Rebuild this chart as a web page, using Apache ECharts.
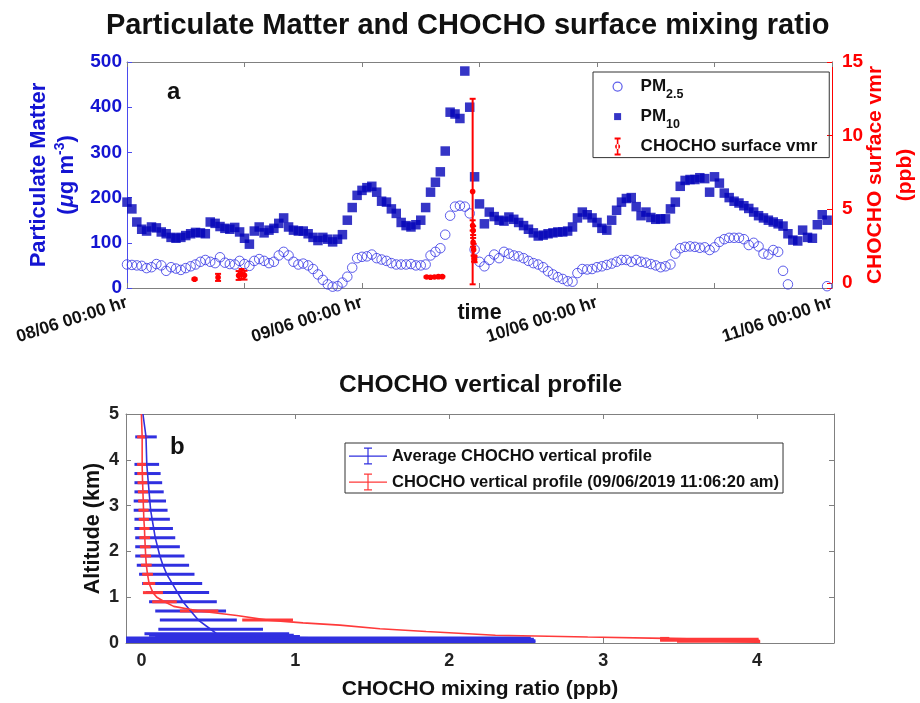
<!DOCTYPE html>
<html>
<head>
<meta charset="utf-8">
<script src="https://cdn.jsdelivr.net/npm/echarts@6/dist/echarts.min.js"></script>
<style>
  html, body { margin: 0; padding: 0; background: #fff; }
  #main { width: 920px; height: 703px; }
</style>
</head>
<body>
<div id="main"></div>
<script>
// ---- panel a: half-hourly PM starting 08/06 00:00 (hours since start on x)
var pmStepHours = 0.5;
var pm25 = [52,51,50,49,44,46,53,50,38,46,
  43,40,44,48,52,58,62,58,55,68,
  56,53,52,60,53,49,60,64,60,55,
  58,72,80,72,58,52,54,50,42,30,
  18,8,3,4,12,25,45,66,69,70,
  74,66,63,60,55,52,52,52,53,50,
  50,52,72,80,88,118,160,180,182,180,
  165,85,58,48,62,74,66,80,76,72,
  70,66,60,55,52,46,37,30,24,20,
  15,14,33,42,41,42,46,48,51,54,
  58,62,62,58,62,58,56,53,50,46,
  48,52,76,88,91,92,91,89,90,84,
  90,102,108,111,111,111,108,95,100,92,
  76,74,84,80,38,8,null,null,null,null,
  null,null,null,4];
var pm10 = [190,175,146,130,126,135,133,124,120,112,
  110,112,116,120,123,122,120,146,143,136,
  132,130,134,124,110,97,126,135,122,128,
  132,143,155,135,128,126,126,120,112,105,
  112,108,102,108,118,150,178,205,216,222,
  225,212,192,190,175,165,145,138,135,140,
  150,178,212,234,257,303,389,385,375,480,
  400,246,186,142,168,158,150,148,157,152,
  145,138,130,122,115,117,120,122,124,124,
  126,135,155,168,162,155,145,132,128,150,
  172,190,198,200,180,160,168,156,152,153,
  153,175,190,225,238,240,240,244,242,212,
  246,232,210,200,192,188,182,176,168,160,
  155,150,146,142,137,120,106,104,128,112,
  110,140,162,150];

// CHOCHO surface vmr (ppb) with error half-widths
var vmrHour = [6.9, 9.3, 11.4, 11.7, 12.0, 30.6, 31.0, 31.4, 31.8, 32.2, 35.3, 35.3, 35.35, 35.35, 35.4, 35.45, 35.5];
var vmrValue = [0.25, 0.37, 0.5, 0.6, 0.52, 0.4, 0.38, 0.4, 0.42, 0.42, 6.2, 3.9, 3.55, 2.75, 2.25, 1.65, 1.6];
var vmrErr = [0.05, 0.24, 0.3, 0.34, 0.3, 0.04, 0.04, 0.04, 0.04, 0.04, 6.3, 0.35, 0.3, 0.3, 0.4, 0.2, 0.2];

var timeTickHours = [0, 24, 48, 72];
var timeTickLabels = ['08/06 00:00 hr', '09/06 00:00 hr', '10/06 00:00 hr', '11/06 00:00 hr'];
var vmrTicks = [0, 5, 10, 15];

// ---- panel b: vertical profiles (altitude km, mixing ratio ppb, error half-width)
var avgAlt = [5.0, 4.5, 3.9, 3.7, 3.5, 3.3, 3.1, 2.9, 2.7, 2.5, 2.3, 2.1, 1.9, 1.7, 1.5, 1.3, 1.1, 0.9, 0.7, 0.5, 0.3, 0.2, 0.17, 0.14, 0.11, 0.08, 0.05, 0.02];
var avgRatio = [0.01, 0.03, 0.035, 0.04, 0.045, 0.05, 0.055, 0.06, 0.07, 0.08, 0.09, 0.105, 0.12, 0.14, 0.165, 0.2, 0.235, 0.27, 0.32, 0.37, 0.45, 0.49, 0.52, 0.56, 1.2, 1.22, 1.23, 1.23];
var avgErr = [0, 0.07, 0.08, 0.085, 0.09, 0.095, 0.105, 0.11, 0.115, 0.125, 0.13, 0.145, 0.16, 0.17, 0.18, 0.195, 0.205, 0.22, 0.23, 0.25, 0.34, 0.47, 0.47, 0.47, 1.33, 1.33, 1.33, 1.33];

var obsAlt = [5.0, 4.5, 3.9, 3.7, 3.5, 3.3, 3.1, 2.9, 2.7, 2.5, 2.3, 2.1, 1.9, 1.7, 1.5, 1.3, 1.1, 1.0, 0.9, 0.8, 0.7, 0.6, 0.5, 0.44, 0.39, 0.31, 0.25, 0.17, 0.13, 0.1, 0.08, 0.06, 0.04, 0.02];
var obsRatio = [0.0, 0.005, 0.005, 0.006, 0.008, 0.01, 0.012, 0.014, 0.016, 0.02, 0.022, 0.025, 0.028, 0.032, 0.04, 0.05, 0.075, 0.1, 0.15, 0.21, 0.375, 0.62, 0.82, 1.05, 1.29, 1.55, 1.85, 2.3, 2.9, 3.4, 3.69, 3.69, 3.75, 4.0];
var obsErr = [0, 0.033, 0.033, 0.033, 0.033, 0.033, 0.033, 0.033, 0.033, 0.033, 0.035, 0.035, 0.035, 0.035, 0.035, 0.04, 0.065, 0, 0.08, 0, 0.125, 0, 0.165, 0, 0, 0, 0, 0, 0, 0.03, 0.32, 0.32, 0.27, 0.02];

var font = '"Liberation Sans", Arial, sans-serif';
var blueLbl = '#1414d2';
var red = '#ff0000';
var axisGray = '#808080';
var profBlue = '#3030e0';
var profRed = '#ff3a3a';

function pmPoints(arr) {
  var out = [];
  arr.forEach(function (v, i) {
    if (v !== null) out.push([i * pmStepHours, v]);
  });
  return out;
}

function renderVmr(params, api) {
  var c = api.coord([api.value(0), api.value(1)]);
  var lo = api.coord([api.value(0), api.value(1) - api.value(2)]);
  var hi = api.coord([api.value(0), api.value(1) + api.value(2)]);
  function st() { return { stroke: red, lineWidth: 2 }; }
  return {
    type: 'group',
    children: [
      { type: 'line', shape: { x1: c[0], y1: lo[1], x2: c[0], y2: hi[1] }, style: st() },
      { type: 'line', shape: { x1: c[0] - 3, y1: lo[1], x2: c[0] + 3, y2: lo[1] }, style: st() },
      { type: 'line', shape: { x1: c[0] - 3, y1: hi[1], x2: c[0] + 3, y2: hi[1] }, style: st() },
      { type: 'circle', shape: { cx: c[0], cy: c[1], r: 2.8 }, style: { fill: red } }
    ]
  };
}

function barRenderer(color) {
  return function (params, api) {
    var e = api.value(2);
    if (!(e > 0)) return null;
    var a = api.coord([api.value(0) - e, api.value(1)]);
    var b = api.coord([api.value(0) + e, api.value(1)]);
    return {
      type: 'line',
      shape: { x1: a[0], y1: a[1], x2: b[0], y2: b[1] },
      style: { stroke: color, lineWidth: 3 }
    };
  };
}

var iconCircle = 'path://M0,0L0,0M30,20L30,20M7.5,10a4.5,4.5 0 1,0 9,0a4.5,4.5 0 1,0 -9,0z';
var iconSquare = 'path://M0,0L0,0M30,20L30,20M8.5,6.5h7v7h-7z';
var iconVmr = 'path://M0,0L0,0M30,20L30,20M9,1h6v2h-6zM11.2,1h1.6v18h-1.6zM9,17h6v2h-6zM9.5,10a2.5,2.5 0 1,0 5,0a2.5,2.5 0 1,0 -5,0z';
var iconProf = 'path://M0,8h38v1.2h-38zM18.4,0h1.2v17h-1.2zM15,0h8v1.2h-8zM15,15.8h8v1.2h-8z';

var nameAvg = 'Average CHOCHO vertical profile';
var nameObs = 'CHOCHO vertical profile (09/06/2019 11:06:20 am)';

var chart = echarts.init(document.getElementById('main'));
chart.setOption({
  animation: false,
  backgroundColor: '#fff',
  textStyle: { fontFamily: font },
  title: [
    { text: 'Particulate Matter and CHOCHO surface mixing ratio', left: 106, top: 11, padding: 0,
      textStyle: { fontSize: 29, fontWeight: 'bold', color: '#111' } },
    { text: 'a', left: 167, top: 80, padding: 0, textStyle: { fontSize: 24, fontWeight: 'bold', color: '#111' } },
    { text: 'CHOCHO vertical profile', left: 339, top: 373, padding: 0,
      textStyle: { fontSize: 24.5, fontWeight: 'bold', color: '#111' } },
    { text: 'b', left: 170, top: 435, padding: 0, textStyle: { fontSize: 24, fontWeight: 'bold', color: '#111' } }
  ],
  legend: [
    {
      orient: 'vertical', left: 593, top: 72, padding: [4, 12, 1, 12], itemGap: 6,
      itemWidth: 30, itemHeight: 20, borderColor: '#333', borderWidth: 1,
      data: [
        { name: 'PM2.5', icon: iconCircle, itemStyle: { color: 'rgba(0,0,0,0)', borderColor: '#3535e5', borderWidth: 1.2 } },
        { name: 'PM10', icon: iconSquare, itemStyle: { color: '#0303b8' } },
        { name: 'CHOCHO surface vmr', icon: iconVmr, itemStyle: { color: red } }
      ],
      formatter: function (name) {
        if (name === 'PM2.5') return '{t|PM}{s|2.5}';
        if (name === 'PM10') return '{t|PM}{s|10}';
        return '{t|' + name + '}';
      },
      textStyle: {
        rich: {
          t: { fontSize: 17, fontWeight: 'bold', color: '#111', lineHeight: 28, fontFamily: font },
          s: { fontSize: 12.5, fontWeight: 'bold', color: '#111', verticalAlign: 'bottom', lineHeight: 13, fontFamily: font }
        }
      }
    },
    {
      orient: 'vertical', left: 345, top: 443, padding: [3, 4, 1, 4], itemGap: 6,
      itemWidth: 38, itemHeight: 17, borderColor: '#333', borderWidth: 1,
      data: [
        { name: nameAvg, icon: iconProf, itemStyle: { color: profBlue } },
        { name: nameObs, icon: iconProf, itemStyle: { color: profRed } }
      ],
      textStyle: { fontSize: 16.5, fontWeight: 'bold', color: '#111', lineHeight: 20 }
    }
  ],
  grid: [
    { left: 127, right: 88, top: 62, height: 226, outerBoundsMode: 'none' },
    { left: 126, right: 86, top: 414, height: 229, outerBoundsMode: 'none' }
  ],
  xAxis: [
    {
      type: 'value', gridIndex: 0, min: 0, max: 72, interval: 12,
      name: 'time', nameLocation: 'middle', nameGap: 14, nameMoveOverlap: false,
      nameTextStyle: { fontSize: 21.5, fontWeight: 'bold', color: '#111' },
      axisLine: { onZero: false, lineStyle: { color: axisGray } },
      axisTick: { inside: true, length: 5, lineStyle: { color: axisGray } },
      axisLabel: {
        rotate: 18, margin: 14, fontSize: 17.5, fontWeight: 'bold', color: '#111',
        formatter: function (v) {
          var k = timeTickHours.indexOf(v);
          return k >= 0 ? timeTickLabels[k] : '';
        }
      },
      splitLine: { show: false }
    },
    {
      type: 'value', gridIndex: 0, position: 'top', min: 0, max: 72, interval: 12,
      axisLine: { onZero: false, lineStyle: { color: axisGray } },
      axisTick: { inside: true, length: 5, lineStyle: { color: axisGray } },
      axisLabel: { show: false }, splitLine: { show: false }
    },
    {
      type: 'value', gridIndex: 1, min: -0.1, max: 4.5,
      name: 'CHOCHO mixing ratio (ppb)', nameLocation: 'middle', nameGap: 36, nameMoveOverlap: false,
      nameTextStyle: { fontSize: 21, fontWeight: 'bold', color: '#111' },
      axisLine: { onZero: false, lineStyle: { color: axisGray } },
      axisTick: { inside: true, length: 5, customValues: [0, 1, 2, 3, 4], lineStyle: { color: axisGray } },
      axisLabel: { customValues: [0, 1, 2, 3, 4], margin: 9, fontSize: 18, fontWeight: 'bold', color: '#222' },
      splitLine: { show: false }
    },
    {
      type: 'value', gridIndex: 1, position: 'top', min: -0.1, max: 4.5,
      axisLine: { onZero: false, lineStyle: { color: axisGray } },
      axisTick: { inside: true, length: 5, customValues: [0, 1, 2, 3, 4], lineStyle: { color: axisGray } },
      axisLabel: { show: false }, splitLine: { show: false }
    }
  ],
  yAxis: [
    {
      type: 'value', gridIndex: 0, min: 0, max: 500, interval: 100,
      name: '{b|Particulate Matter}\n{b|(}{i|\u03bc}{b|g m}{p|-3}{b|)}', nameLocation: 'middle', nameGap: 46,
      nameMoveOverlap: false,
      nameTextStyle: {
        color: blueLbl,
        rich: {
          b: { fontSize: 22, fontWeight: 'bold', color: blueLbl, lineHeight: 28, fontFamily: font },
          i: { fontSize: 22, fontStyle: 'italic', fontWeight: 'bold', color: blueLbl, lineHeight: 28, fontFamily: font },
          p: { fontSize: 14, fontWeight: 'bold', color: blueLbl, verticalAlign: 'top', lineHeight: 28, fontFamily: font }
        }
      },
      axisLine: { show: true, onZero: false, lineStyle: { color: '#4a4aee' } },
      axisTick: { show: true, inside: true, length: 5, lineStyle: { color: '#4a4aee' } },
      axisLabel: { fontSize: 19, fontWeight: 'bold', color: blueLbl, margin: 5 },
      splitLine: { show: false }
    },
    {
      type: 'value', gridIndex: 0, position: 'right', min: -0.35, max: 15, splitNumber: 3,
      name: '{b|CHOCHO surface vmr}\n{b|(ppb)}', nameLocation: 'middle', nameGap: 28,
      nameMoveOverlap: false,
      nameTextStyle: {
        color: red,
        rich: { b: { fontSize: 21, fontWeight: 'bold', color: red, lineHeight: 30, fontFamily: font } }
      },
      axisLine: { show: true, onZero: false, lineStyle: { color: red } },
      axisTick: { show: true, inside: true, length: 5, lineStyle: { color: red } },
      axisLabel: {
        fontSize: 19, fontWeight: 'bold', color: red, margin: 10,
        formatter: function (v) { return vmrTicks.indexOf(v) >= 0 ? String(v) : ''; }
      },
      splitLine: { show: false }
    },
    {
      type: 'value', gridIndex: 1, min: 0, max: 5, interval: 1,
      name: 'Altitude (km)', nameLocation: 'middle', nameGap: 22, nameMoveOverlap: false,
      nameTextStyle: { fontSize: 21.5, fontWeight: 'bold', color: '#111' },
      axisLine: { show: true, onZero: false, lineStyle: { color: axisGray } },
      axisTick: { show: true, inside: true, length: 5, lineStyle: { color: axisGray } },
      axisLabel: { fontSize: 18, fontWeight: 'bold', color: '#222', margin: 7 },
      splitLine: { show: false }
    },
    {
      type: 'value', gridIndex: 1, position: 'right', min: 0, max: 5, interval: 1,
      axisLine: { show: true, onZero: false, lineStyle: { color: axisGray } },
      axisTick: { show: true, inside: true, length: 5, lineStyle: { color: axisGray } },
      axisLabel: { show: false }, splitLine: { show: false }
    }
  ],
  series: [
    {
      name: 'PM2.5', type: 'scatter', xAxisIndex: 0, yAxisIndex: 0,
      symbol: 'circle', symbolSize: 9.5,
      itemStyle: { color: 'rgba(0,0,0,0)', borderColor: '#3535e5', borderWidth: 1 },
      data: pmPoints(pm25)
    },
    {
      name: 'PM10', type: 'scatter', xAxisIndex: 0, yAxisIndex: 0,
      symbol: 'rect', symbolSize: 9.5,
      itemStyle: { color: '#0303b8' },
      data: pmPoints(pm10)
    },
    {
      name: 'CHOCHO surface vmr', type: 'custom', xAxisIndex: 0, yAxisIndex: 1,
      itemStyle: { color: red }, z: 5,
      renderItem: renderVmr,
      data: vmrHour.map(function (t, i) { return [t, vmrValue[i], vmrErr[i]]; })
    },
    {
      name: nameAvg + ' bars', type: 'custom', xAxisIndex: 2, yAxisIndex: 2, clip: true,
      renderItem: barRenderer(profBlue),
      data: avgAlt.map(function (h, i) { return [avgRatio[i], h, avgErr[i]]; })
    },
    {
      name: nameAvg, type: 'line', xAxisIndex: 2, yAxisIndex: 2, showSymbol: false, clip: true,
      itemStyle: { color: profBlue }, lineStyle: { color: profBlue, width: 1.6 },
      data: avgAlt.map(function (h, i) { return [avgRatio[i], h]; })
    },
    {
      name: nameObs + ' bars', type: 'custom', xAxisIndex: 2, yAxisIndex: 2, clip: true,
      renderItem: barRenderer(profRed),
      data: obsAlt.map(function (h, i) { return [obsRatio[i], h, obsErr[i]]; })
    },
    {
      name: nameObs, type: 'line', xAxisIndex: 2, yAxisIndex: 2, showSymbol: false, clip: true,
      itemStyle: { color: profRed }, lineStyle: { color: profRed, width: 1.6 },
      data: obsAlt.map(function (h, i) { return [obsRatio[i], h]; })
    }
  ]
});
</script>
</body>
</html>
